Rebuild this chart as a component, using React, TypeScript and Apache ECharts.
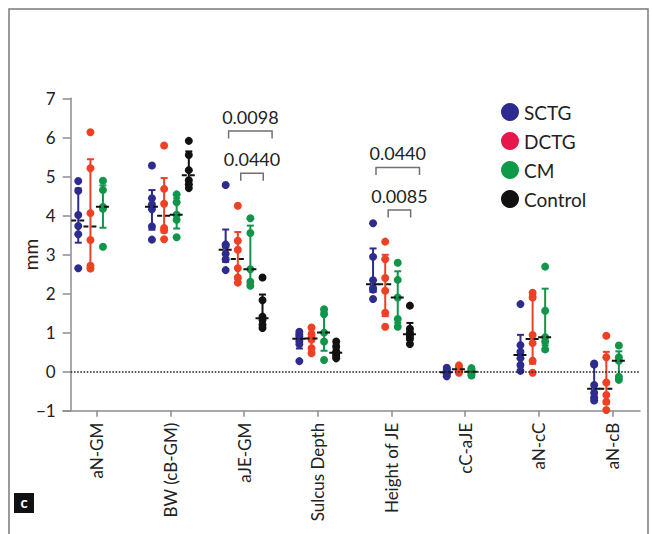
import React, { useEffect, useRef } from "react";
import * as echarts from "echarts";

// ---------- data ----------
const categories = ["aN-GM", "BW (cB-GM)", "aJE-GM", "Sulcus Depth", "Height of JE", "cC-aJE", "aN-cC", "aN-cB"];
const groupNames = ["SCTG", "DCTG", "CM", "Control"];

const sctgValues = [
  [4.88, 4.63, 4.01, 3.73, 3.52, 2.65],
  [5.28, 4.44, 4.28, 4.16, 3.72, 3.38],
  [4.78, 3.26, 3.22, 3.02, 2.88, 2.6],
  [1.02, 0.95, 0.9, 0.78, 0.7, 0.27],
  [3.8, 2.94, 2.34, 2.14, 2.1, 1.86],
  [0.1, 0.05, 0.01, -0.04, -0.08, -0.12],
  [1.73, 0.68, 0.51, 0.34, 0.17, 0.02],
  [0.21, 0.18, -0.34, -0.54, -0.66, -0.74],
];
const dctgValues = [
  [6.13, 5.21, 4.06, 3.37, 2.71, 2.64],
  [5.79, 4.68, 4.3, 3.68, 3.62, 3.39],
  [4.25, 3.35, 3.12, 2.65, 2.41, 2.28],
  [1.13, 0.96, 0.88, 0.82, 0.6, 0.47],
  [3.33, 2.88, 2.4, 2.07, 1.51, 1.15],
  [0.16, 0.11, 0.06, 0.02, -0.03],
  [2.02, 1.9, 0.94, 0.73, 0.28, -0.03],
  [0.92, 0.37, -0.28, -0.6, -0.77, -0.98],
];
const cmValues = [
  [4.89, 4.65, 4.22, 4.17, 3.2],
  [4.54, 4.34, 4.02, 3.89, 3.44],
  [3.93, 3.55, 2.62, 2.3, 2.2],
  [1.6, 1.47, 1.0, 0.77, 0.3],
  [2.79, 2.35, 1.9, 1.35, 1.15],
  [0.09, 0.04, 0.0, -0.05, -0.1],
  [2.69, 1.56, 0.88, 0.77, 0.57],
  [0.67, 0.37, 0.28, -0.13, -0.21],
];
const controlValues = [
  [],
  [5.91, 5.55, 5.16, 4.9, 4.8, 4.7],
  [2.41, 1.83, 1.41, 1.32, 1.2, 1.12],
  [0.77, 0.64, 0.52, 0.45, 0.4, 0.34],
  [1.69, 1.1, 1.0, 0.92, 0.85, 0.71],
  [],
  [],
  [],
];

const yMin = -1;
const yMax = 7;
const yInterval = 1;

const bracketCategory = [2, 2, 4, 4];
const bracketLevel = ["outer", "inner", "outer", "inner"];
const bracketValue = [6.16, 5.08, 5.23, 4.14];
const bracketLabels = ["0.0098", "0.0440", "0.0440", "0.0085"];

// ---------- layout / style ----------
const groupValues = [sctgValues, dctgValues, cmValues, controlValues];
const groupColors = ["#2d2c8e", "#ee4024", "#12954a", "#111111"];
const legendColors = ["#2d2c8e", "#e4184a", "#0f9a48", "#111111"];
const groupOffsets = [-0.25, -0.085, 0.085, 0.25];
const bracketSpan: Record<string, [number, number]> = { outer: [-0.21, 0.38], inner: [-0.045, 0.26] };
const FONT = "Lato";
const AXIS_GRAY = "#8c8c8c";

function quantile(vals: number[], p: number): number {
  const s = [...vals].sort((a, b) => a - b);
  const n = s.length;
  const pos = p * (n + 1);
  if (pos <= 1) return s[0];
  if (pos >= n) return s[n - 1];
  const lo = Math.floor(pos);
  const f = pos - lo;
  return s[lo - 1] + f * (s[lo] - s[lo - 1]);
}

export default function App() {
  const ref = useRef<HTMLDivElement>(null);

  useEffect(() => {
    if (!ref.current) return;
    const chart = echarts.init(ref.current, null, { renderer: "svg" });

    const series: any[] = [];

    groupValues.forEach((gv, gi) => {
      const color = groupColors[gi];
      const pts: number[][] = [];
      const stats: number[][] = [];
      gv.forEach((vals, ci) => {
        if (!vals.length) return;
        const x = ci + groupOffsets[gi];
        vals.forEach((v) => pts.push([x, v]));
        stats.push([x, quantile(vals, 0.25), quantile(vals, 0.5), quantile(vals, 0.75)]);
      });

      series.push({
        type: "custom",
        name: groupNames[gi] + " IQR",
        z: 2,
        silent: true,
        encode: { x: 0, y: [1, 3] },
        data: stats,
        renderItem: (_p: any, api: any) => {
          const x = api.value(0);
          const a = api.coord([x, api.value(1)]);
          const b = api.coord([x, api.value(3)]);
          const hw = 3.5;
          const st = { stroke: color, lineWidth: 2 };
          return {
            type: "group",
            children: [
              { type: "line", shape: { x1: a[0], y1: a[1], x2: b[0], y2: b[1] }, style: st },
              { type: "line", shape: { x1: a[0] - hw, y1: a[1], x2: a[0] + hw, y2: a[1] }, style: st },
              { type: "line", shape: { x1: b[0] - hw, y1: b[1], x2: b[0] + hw, y2: b[1] }, style: st },
            ],
          };
        },
      });

      series.push({
        type: "scatter",
        name: groupNames[gi],
        z: 3,
        symbol: "circle",
        symbolSize: 8,
        itemStyle: { color, opacity: 1 },
        data: pts,
        ...(gi === 0
          ? {
              markLine: {
                silent: true,
                symbol: ["none", "none"],
                label: { show: false },
                lineStyle: { type: "dotted", color: "#222", width: 1.6 },
                data: [[{ coord: [-0.352, 0] }, { coord: [7.372, 0] }]],
              },
            }
          : {}),
      });

      series.push({
        type: "custom",
        name: groupNames[gi] + " median",
        z: 4,
        silent: true,
        encode: { x: 0, y: 2 },
        data: stats,
        renderItem: (_p: any, api: any) => {
          const x = api.value(0);
          const m = api.coord([x, api.value(2)]);
          const hw = 7;
          return {
            type: "line",
            shape: { x1: m[0] - hw, y1: m[1], x2: m[0] + hw, y2: m[1] },
            style: { stroke: "#111", lineWidth: 2, lineDash: [5, 3] },
          };
        },
      });
    });

    const bracketData = bracketCategory.map((c, i) => {
      const span = bracketSpan[bracketLevel[i]];
      return [c + span[0], c + span[1], bracketValue[i], i];
    });

    series.push({
      type: "custom",
      name: "brackets",
      z: 5,
      silent: true,
      encode: { x: [0, 1], y: 2 },
      data: bracketData,
      renderItem: (_p: any, api: any) => {
        const y = api.value(2);
        const a = api.coord([api.value(0), y]);
        const b = api.coord([api.value(1), y]);
        const leg = 7.5;
        return {
          type: "group",
          children: [
            {
              type: "polyline",
              shape: { points: [[a[0], a[1] + leg], [a[0], a[1]], [b[0], b[1]], [b[0], b[1] + leg]] },
              style: { stroke: "#707070", lineWidth: 1.5, fill: "none" },
            },
            {
              type: "text",
              x: (a[0] + b[0]) / 2,
              y: a[1] - 14,
              style: {
                text: bracketLabels[api.value(3)],
                fill: "#222",
                fontSize: 18,
                fontFamily: FONT,
                align: "center",
                verticalAlign: "middle",
              },
            },
          ],
        };
      },
    });

    const catTicks = categories.map((_c, i) => i);

    chart.setOption({
      animation: false,
      backgroundColor: "#fff",
      grid: { left: 63, right: 12, top: 98.3, bottom: 123.3, containLabel: false, outerBoundsMode: "none" },
      xAxis: {
        type: "value",
        min: -0.457,
        max: 7.372,
        axisLine: { show: true, onZero: false, lineStyle: { color: AXIS_GRAY, width: 1.5 } },
        axisTick: { show: true, length: 6, customValues: catTicks, lineStyle: { color: AXIS_GRAY, width: 1.5 } },
        axisLabel: {
          customValues: catTicks,
          rotate: 90,
          margin: 12,
          fontSize: 17,
          fontFamily: FONT,
          color: "#222",
          formatter: (v: number) => categories[Math.round(v)] ?? "",
        },
        splitLine: { show: false },
      },
      yAxis: {
        type: "value",
        min: yMin,
        max: yMax,
        interval: yInterval,
        offset: -7.7,
        name: "mm",
        nameLocation: "middle",
        nameGap: 31,
        nameMoveOverlap: false,
        nameTextStyle: { fontSize: 19, fontFamily: FONT, color: "#222" },
        axisLine: { show: true, onZero: false, lineStyle: { color: AXIS_GRAY, width: 1.5 } },
        axisTick: { show: true, length: 8, lineStyle: { color: AXIS_GRAY, width: 1.5 } },
        axisLabel: {
          margin: 15,
          fontSize: 17,
          fontFamily: FONT,
          color: "#222",
          formatter: (v: number) => (v < 0 ? "\u2212" + Math.abs(v) : String(v)),
        },
        splitLine: { show: false },
      },
      legend: {
        orient: "vertical",
        left: 501,
        top: 102.5,
        padding: 0,
        itemWidth: 18,
        itemHeight: 18,
        itemGap: 10,
        icon: "circle",
        selectedMode: false,
        textStyle: { fontSize: 19, fontFamily: FONT, color: "#222" },
        data: groupNames.map((n, i) => ({ name: n, itemStyle: { color: legendColors[i] } })),
      },
      graphic: [
        {
          type: "rect",
          shape: { x: 9, y: 9, width: 639, height: 540 },
          style: { fill: "none", stroke: "#7a7a7a", lineWidth: 1.5 },
          silent: true,
        },
        {
          type: "rect",
          shape: { x: 14, y: 493, width: 20, height: 20 },
          style: { fill: "#111" },
          silent: true,
        },
        {
          type: "text",
          x: 24,
          y: 502,
          style: {
            text: "c",
            fill: "#fff",
            fontSize: 15,
            fontWeight: "bold",
            fontFamily: FONT,
            align: "center",
            verticalAlign: "middle",
          },
          silent: true,
        },
      ],
      series,
    });

    return () => chart.dispose();
  }, []);

  return <div ref={ref} style={{ position: "fixed", left: 0, top: 0, width: 652, height: 534 }} />;
}
